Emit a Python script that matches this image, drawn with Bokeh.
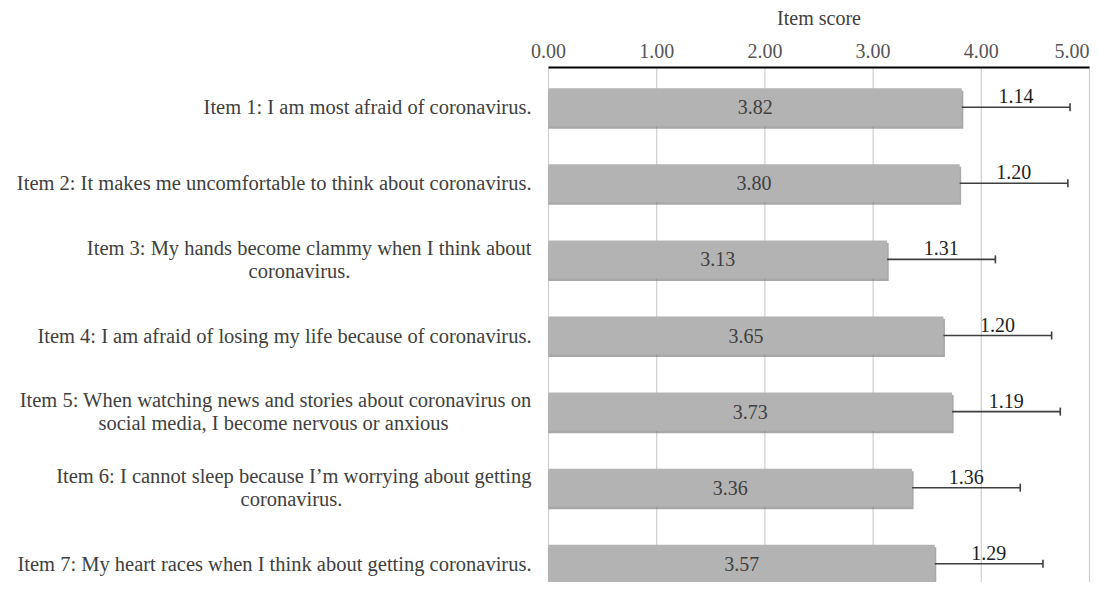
from bokeh.plotting import figure
from bokeh.models import Range1d, ColumnDataSource
from bokeh.core.properties import value
from bokeh.embed import file_html
from bokeh.resources import INLINE

# ---------------- data ----------------
item_line1 = [
    "Item 1: I am most afraid of coronavirus.",
    "Item 2: It makes me uncomfortable to think about coronavirus.",
    "Item 3: My hands become clammy when I think about",
    "Item 4: I am afraid of losing my life because of coronavirus.",
    "Item 5: When watching news and stories about coronavirus on",
    "Item 6: I cannot sleep because I\u2019m worrying about getting",
    "Item 7: My heart races when I think about getting coronavirus.",
]
item_line2 = ["", "", "coronavirus.", "", "social media, I become nervous or anxious",
              "coronavirus.", ""]
means = [3.82, 3.80, 3.13, 3.65, 3.73, 3.36, 3.57]
sds = [1.14, 1.20, 1.31, 1.20, 1.19, 1.36, 1.29]
drawn_err = [1.00, 1.00, 1.00, 1.00, 1.00, 1.00, 1.00]   # error bar length as drawn
tick_values = [0, 1, 2, 3, 4, 5]
tick_labels = ["0.00", "1.00", "2.00", "3.00", "4.00", "5.00"]
axis_title = "Item score"

# ---------------- layout / styling ----------------
FONT = value("Liberation Serif")
TXT = "#404040"
W, H = 1090, 582
PXX = 108.2          # px per score unit
X0 = 548             # screen x of score 0
PXY = 76.1           # px per item row
Y1 = 106.7           # screen y of item 1 centre


def ydat(sy):        # screen y -> data y (flipped axis, item 1 on top)
    return 1 + (sy - Y1) / PXY


def xdat(sx):
    return (sx - X0) / PXX


AXIS_Y = ydat(67)
n = len(means)
idx = list(range(1, n + 1))
two = [1 if s else 0 for s in item_line2]

src = ColumnDataSource(dict(
    idx=idx,
    mean=means,
    half=[m / 2 for m in means],
    err_end=[m + e for m, e in zip(means, drawn_err)],
    err_mid=[m + e / 2 for m, e in zip(means, drawn_err)],
    sd_txt=["%.2f" % s for s in sds],
    sd_y=[i - 11 / PXY for i in idx],
    mean_txt=["%.2f" % m for m in means],
    l1=item_line1,
    l1_y=[i - 11.5 / PXY * t for i, t in zip(idx, two)],
    cap_lo=[i - 4 / PXY for i in idx],
    cap_hi=[i + 4 / PXY for i in idx],
    sh_y=[i + 2.5 / PXY for i in idx],
    sh_r=[m + 1.5 / PXX for m in means],
))
l2_centres = [299, 273, 291]
src2 = ColumnDataSource(dict(
    l2=[s for s in item_line2 if s],
    y=[i + 11.5 / PXY for i, s in zip(idx, item_line2) if s],
    x=[xdat(c) for c in l2_centres],
))
grid = ColumnDataSource(dict(x=tick_values, y0=[AXIS_Y] * len(tick_values),
                             y1=[ydat(H + 10)] * len(tick_values)))

p = figure(width=W, height=H, output_backend="svg", toolbar_location=None,
           x_range=Range1d(xdat(0), xdat(W)), y_range=Range1d(ydat(H), ydat(0)),
           min_border=0)
p.outline_line_color = None
p.background_fill_color = "white"
p.border_fill_color = "white"
p.xaxis.visible = False
p.yaxis.visible = False
p.xgrid.visible = False
p.ygrid.visible = False

# grid lines
p.segment(x0="x", y0="y0", x1="x", y1="y1", source=grid, line_color="#cfcfcf", line_width=1.2)

# top axis line, tick labels, title
p.segment(x0=[tick_values[0]], y0=[AXIS_Y], x1=[tick_values[-1]], y1=[AXIS_Y],
          line_color="black", line_width=2)
p.text(x=tick_values[:-1], y=[ydat(50)] * (len(tick_values) - 1), text=tick_labels[:-1],
       text_align="center", text_baseline="middle", text_font=FONT,
       text_font_size="20px", text_color="#555555")
p.text(x=tick_values[-1:], y=[ydat(50)], text=tick_labels[-1:],
       text_align="right", text_baseline="middle", text_font=FONT,
       text_font_size="20px", text_color="#555555")
p.text(x=[(tick_values[0] + tick_values[-1]) / 2], y=[ydat(17.5)], text=[axis_title],
       text_align="center", text_baseline="middle", text_font=FONT,
       text_font_size="20px", text_color=TXT)

# bar shadow + bars
p.hbar(y="sh_y", left=0, right="sh_r", height=0.5, source=src,
       fill_color="#6e6e6e", fill_alpha=0.6, line_color=None)
p.hbar(y="idx", left=0, right="mean", height=0.5, source=src,
       fill_color="#b3b3b3", line_color=None)

# error bars
p.segment(x0="mean", y0="idx", x1="err_end", y1="idx", source=src,
          line_color="#3f3f3f", line_width=1.6)
p.segment(x0="err_end", y0="cap_lo", x1="err_end", y1="cap_hi", source=src,
          line_color="#3f3f3f", line_width=1.6)

# value labels
p.text(x="half", y="idx", text="mean_txt", source=src, text_align="center",
       text_baseline="middle", text_font=FONT, text_font_size="20px", text_color=TXT)
p.text(x="err_mid", y="sd_y", text="sd_txt", source=src, text_align="center",
       text_baseline="middle", text_font=FONT, text_font_size="20px", text_color="#1e1e1e")

# category labels
p.text(x=xdat(531), y="l1_y", text="l1", source=src, text_align="right",
       text_baseline="middle", text_font=FONT, text_font_size="20.5px", text_color=TXT)
p.text(x="x", y="y", text="l2", source=src2, text_align="center",
       text_baseline="middle", text_font=FONT, text_font_size="20.5px", text_color=TXT)

open("out.html", "w").write(file_html(p, INLINE))
